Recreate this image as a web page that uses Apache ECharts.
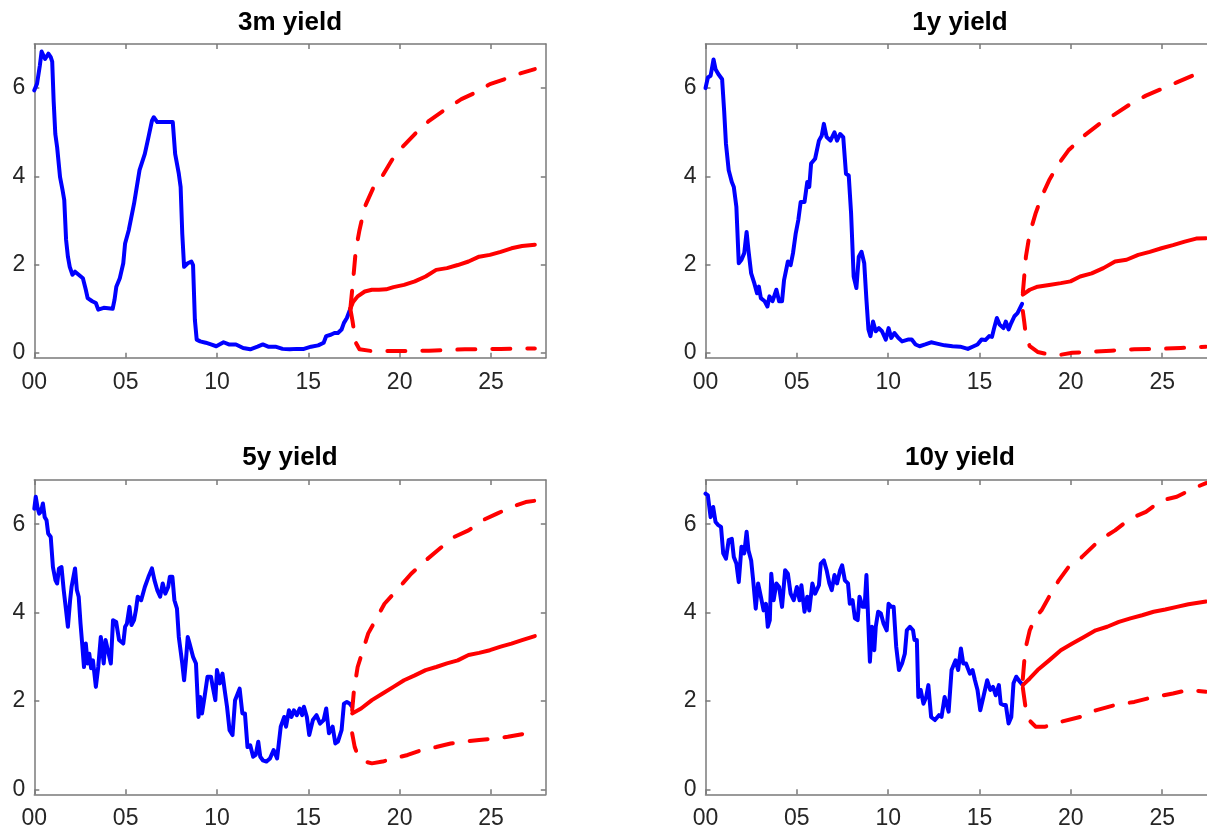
<!DOCTYPE html>
<html>
<head>
<meta charset="utf-8">
<script src="https://cdn.jsdelivr.net/npm/echarts@6/dist/echarts.min.js"></script>
<style>
html,body{margin:0;padding:0;background:#fff;overflow:hidden;width:1207px;height:832px;}
#chart{width:1222px;height:832px;}
</style>
</head>
<body>
<div id="chart"></div>
<script>
// ---------- data (x = years since 2000, y = yield in %) ----------
const panelTitles = ['3m yield', '1y yield', '5y yield', '10y yield'];
const xTickValues = [0, 5, 10, 15, 20, 25];
const xTickLabels = ['00', '05', '10', '15', '20', '25'];
const yTickValues = [0, 2, 4, 6];
const yTickLabels = ['0', '2', '4', '6'];

const hist3m = [[0,5.95],[0.15,6.1],[0.3,6.5],[0.4,6.83],[0.59,6.66],[0.77,6.78],[0.9,6.7],[0.98,6.6],[1.06,5.7],[1.15,4.96],[1.25,4.66],[1.41,3.98],[1.55,3.68],[1.64,3.46],[1.74,2.56],[1.84,2.18],[1.94,1.95],[2.09,1.77],[2.23,1.84],[2.43,1.77],[2.66,1.69],[2.82,1.43],[2.92,1.24],[3.17,1.17],[3.37,1.13],[3.5,0.98],[3.8,1.02],[4.29,1.0],[4.39,1.2],[4.49,1.5],[4.68,1.69],[4.87,2.03],[4.97,2.48],[5.17,2.78],[5.46,3.38],[5.76,4.14],[6.05,4.51],[6.25,4.89],[6.44,5.26],[6.54,5.34],[6.73,5.23],[7.13,5.23],[7.58,5.23],[7.71,4.51],[7.91,4.06],[8.01,3.76],[8.1,2.7],[8.2,1.95],[8.4,2.03],[8.6,2.07],[8.69,1.99],[8.79,0.75],[8.89,0.3],[9.08,0.26],[9.38,0.23],[9.67,0.19],[9.96,0.15],[10.36,0.24],[10.65,0.19],[11.04,0.19],[11.43,0.11],[11.82,0.08],[12.22,0.14],[12.51,0.19],[12.8,0.14],[13.2,0.14],[13.59,0.09],[13.98,0.08],[14.37,0.09],[14.76,0.09],[15.15,0.14],[15.54,0.17],[15.84,0.23],[15.98,0.38],[16.23,0.41],[16.43,0.45],[16.62,0.45],[16.82,0.53],[16.95,0.68],[17.11,0.79],[17.3,1.0]];
const fc3mMid = [[17.3,1.0],[17.45,1.15],[17.7,1.28],[18.09,1.39],[18.48,1.43],[18.87,1.43],[19.26,1.44],[19.66,1.49],[20.24,1.54],[20.83,1.62],[21.42,1.73],[22.0,1.88],[22.59,1.92],[23.18,1.99],[23.77,2.07],[24.35,2.18],[24.94,2.22],[25.53,2.29],[26.12,2.37],[26.7,2.42],[27.4,2.45]];
const fc3mHi = [[17.3,1.0],[17.42,1.5],[17.6,2.33],[17.8,2.78],[18.09,3.31],[18.58,3.76],[19.07,4.02],[19.56,4.36],[20.14,4.66],[20.83,4.96],[21.61,5.26],[22.4,5.49],[23.38,5.75],[24.16,5.9],[24.94,6.09],[25.72,6.2],[26.5,6.32],[27.4,6.43]];
const fc3mLo = [[17.3,1.0],[17.42,0.72],[17.6,0.23],[17.8,0.08],[18.48,0.04],[19.66,0.04],[21.61,0.05],[23.57,0.08],[25.53,0.09],[27.4,0.1]];

const hist1y = [[0,6.0],[0.13,6.24],[0.28,6.28],[0.44,6.65],[0.55,6.43],[0.7,6.32],[0.91,6.2],[1.02,5.49],[1.12,4.74],[1.27,4.14],[1.44,3.87],[1.55,3.76],[1.69,3.31],[1.82,2.03],[1.97,2.11],[2.12,2.26],[2.25,2.74],[2.35,2.33],[2.5,1.8],[2.67,1.58],[2.82,1.35],[2.92,1.5],[3.03,1.24],[3.24,1.17],[3.39,1.05],[3.5,1.28],[3.67,1.17],[3.88,1.43],[4.03,1.17],[4.19,1.17],[4.3,1.65],[4.51,2.07],[4.66,1.99],[4.79,2.26],[4.94,2.71],[5.08,3.01],[5.21,3.42],[5.42,3.42],[5.57,3.87],[5.68,3.76],[5.78,4.29],[6.0,4.4],[6.21,4.81],[6.36,4.92],[6.48,5.19],[6.63,4.89],[6.84,4.81],[7.06,5.0],[7.2,4.81],[7.37,4.96],[7.54,4.89],[7.69,4.06],[7.84,4.02],[7.97,3.16],[8.11,1.73],[8.26,1.47],[8.39,2.18],[8.54,2.29],[8.69,2.03],[8.81,1.2],[8.92,0.53],[9.03,0.38],[9.17,0.71],[9.32,0.49],[9.49,0.56],[9.66,0.49],[9.87,0.3],[10.02,0.56],[10.17,0.34],[10.34,0.45],[10.55,0.34],[10.76,0.26],[11.08,0.3],[11.29,0.3],[11.5,0.19],[11.72,0.15],[12.03,0.19],[12.35,0.24],[12.67,0.21],[13.09,0.17],[13.52,0.15],[13.94,0.14],[14.36,0.09],[14.68,0.15],[14.89,0.19],[15.11,0.3],[15.32,0.29],[15.53,0.38],[15.68,0.36],[15.8,0.56],[15.95,0.79],[16.1,0.64],[16.31,0.56],[16.44,0.71],[16.59,0.53],[16.74,0.68],[16.91,0.83],[17.08,0.9],[17.33,1.11]];
const fc1yMid = [[17.37,1.32],[17.75,1.43],[18.18,1.5],[18.81,1.54],[19.45,1.58],[19.98,1.62],[20.51,1.73],[21.14,1.8],[21.78,1.92],[22.42,2.07],[23.05,2.11],[23.69,2.22],[24.32,2.29],[24.96,2.37],[25.59,2.44],[26.23,2.52],[26.86,2.59],[27.4,2.6]];
const fc1yHi = [[17.37,1.35],[17.54,2.18],[17.75,2.71],[18.07,3.16],[18.39,3.53],[18.81,3.91],[19.34,4.29],[19.87,4.59],[20.72,4.92],[21.57,5.19],[22.42,5.41],[23.26,5.64],[24.11,5.83],[24.96,5.98],[25.8,6.13],[26.65,6.28],[27.4,6.34]];
const fc1yLo = [[17.37,0.95],[17.45,0.7],[17.54,0.38],[17.75,0.15],[18.18,0.02],[18.81,-0.04],[19.34,-0.05],[20.08,0.0],[20.93,0.02],[22.2,0.05],[23.47,0.08],[24.75,0.09],[26.02,0.11],[27.4,0.14]];

const hist5y = [[0,6.35],[0.08,6.62],[0.18,6.37],[0.27,6.24],[0.37,6.29],[0.47,6.47],[0.57,6.16],[0.67,6.09],[0.76,5.79],[0.9,5.71],[1.02,5.03],[1.16,4.73],[1.25,4.66],[1.35,5.0],[1.49,5.03],[1.61,4.51],[1.74,4.05],[1.84,3.68],[1.96,4.28],[2.04,4.58],[2.13,4.54],[2.23,5.0],[2.33,4.51],[2.43,4.36],[2.53,3.75],[2.62,3.3],[2.72,2.77],[2.82,3.3],[2.92,2.85],[3.01,3.07],[3.11,2.74],[3.21,2.92],[3.37,2.32],[3.5,2.77],[3.64,3.45],[3.8,2.85],[3.9,3.38],[3.99,3.34],[4.19,2.85],[4.31,3.83],[4.48,3.79],[4.64,3.38],[4.87,3.3],[4.97,3.68],[5.07,3.75],[5.21,4.13],[5.32,3.72],[5.46,3.83],[5.56,4.05],[5.66,4.36],[5.85,4.28],[6.05,4.58],[6.25,4.81],[6.44,5.0],[6.58,4.73],[6.73,4.51],[6.89,4.36],[7.03,4.66],[7.17,4.43],[7.33,4.58],[7.42,4.81],[7.56,4.81],[7.67,4.28],[7.81,4.09],[7.91,3.45],[8.01,3.41],[8.1,2.85],[8.2,2.47],[8.3,2.92],[8.4,3.45],[8.5,3.3],[8.69,3.0],[8.85,2.85],[8.99,1.64],[9.08,2.09],[9.18,1.72],[9.32,2.09],[9.48,2.55],[9.67,2.55],[9.77,2.32],[9.91,2.02],[10.0,2.7],[10.16,2.4],[10.3,2.62],[10.42,2.25],[10.55,1.87],[10.69,1.34],[10.85,1.23],[10.99,2.02],[11.08,2.02],[11.24,2.28],[11.39,1.72],[11.53,1.72],[11.67,0.96],[11.82,1.0],[11.98,0.74],[12.12,0.78],[12.26,1.08],[12.37,0.74],[12.51,0.66],[12.71,0.63],[12.9,0.7],[13.1,0.89],[13.29,0.7],[13.49,1.42],[13.68,1.64],[13.78,1.42],[13.94,1.79],[14.08,1.64],[14.21,1.79],[14.37,1.68],[14.53,1.83],[14.66,1.68],[14.76,1.87],[14.92,1.64],[15.05,1.23],[15.25,1.57],[15.45,1.68],[15.64,1.49],[15.84,1.57],[15.98,1.83],[16.13,1.27],[16.33,1.42],[16.48,1.04],[16.62,1.08],[16.82,1.34],[16.95,1.94],[17.11,1.98],[17.27,1.94],[17.4,1.87]];
const fc5yMid = [[17.4,1.72],[17.89,1.83],[18.48,2.02],[19.07,2.17],[19.66,2.32],[20.24,2.47],[20.83,2.58],[21.42,2.7],[22.0,2.77],[22.59,2.85],[23.18,2.92],[23.77,3.04],[24.35,3.09],[24.94,3.15],[25.53,3.23],[26.12,3.3],[26.7,3.38],[27.4,3.47]];
const fc5yHi = [[17.4,1.79],[17.5,2.25],[17.7,2.77],[17.99,3.15],[18.28,3.53],[18.68,3.83],[19.17,4.2],[19.85,4.51],[20.63,4.88],[21.42,5.18],[22.2,5.45],[22.98,5.71],[23.77,5.86],[24.55,6.09],[25.33,6.24],[26.12,6.39],[26.9,6.5],[27.4,6.53]];
const fc5yLo = [[17.4,1.27],[17.54,0.96],[17.7,0.78],[18.09,0.63],[18.48,0.59],[19.07,0.63],[19.66,0.7],[20.44,0.78],[21.22,0.89],[22.0,0.96],[22.79,1.04],[23.57,1.08],[24.35,1.12],[25.14,1.15],[25.92,1.19],[26.7,1.25],[27.4,1.3]];

const hist10y = [[0,6.69],[0.13,6.65],[0.28,6.16],[0.42,6.39],[0.55,6.05],[0.7,5.98],[0.85,5.94],[0.97,5.34],[1.12,5.22],[1.27,5.64],[1.44,5.67],[1.55,5.26],[1.69,5.11],[1.82,4.69],[1.97,5.49],[2.12,5.34],[2.25,5.83],[2.35,5.41],[2.5,5.18],[2.61,4.73],[2.75,4.09],[2.88,4.66],[3.03,4.36],[3.18,4.05],[3.31,4.2],[3.41,3.68],[3.52,3.83],[3.6,4.88],[3.73,4.28],[3.88,4.66],[4.03,4.58],[4.19,4.13],[4.36,4.96],[4.51,4.88],[4.66,4.43],[4.83,4.28],[5.0,4.58],[5.15,4.28],[5.25,4.62],[5.42,4.02],[5.57,4.36],[5.68,4.05],[5.85,4.66],[6.0,4.43],[6.21,4.62],[6.31,5.11],[6.48,5.18],[6.63,4.96],[6.78,4.66],[6.91,4.51],[7.06,4.85],[7.2,4.66],[7.37,4.96],[7.48,5.07],[7.63,4.73],[7.8,4.66],[7.9,4.2],[8.05,4.28],[8.18,3.87],[8.33,3.83],[8.43,4.36],[8.6,4.13],[8.71,4.13],[8.81,4.85],[8.9,3.9],[9.0,2.89],[9.11,3.68],[9.24,3.15],[9.32,3.68],[9.45,4.02],[9.6,3.98],[9.75,3.75],[9.92,3.6],[10.02,4.2],[10.17,4.13],[10.3,4.13],[10.44,3.23],[10.59,2.7],[10.76,2.85],[10.91,3.07],[11.02,3.6],[11.19,3.68],[11.36,3.6],[11.44,3.38],[11.57,3.38],[11.65,2.09],[11.78,2.25],[11.93,1.94],[12.08,2.09],[12.2,2.36],[12.35,1.64],[12.56,1.57],[12.78,1.68],[12.92,1.64],[13.09,2.09],[13.31,1.76],[13.47,2.7],[13.69,2.92],[13.83,2.7],[13.98,3.19],[14.11,2.85],[14.26,2.85],[14.47,2.62],[14.62,2.7],[14.75,2.47],[14.89,2.25],[15.04,1.79],[15.21,2.09],[15.42,2.47],[15.59,2.25],[15.74,2.32],[15.89,2.13],[16.06,2.36],[16.16,1.94],[16.31,1.91],[16.44,1.91],[16.59,1.49],[16.74,1.64],[16.86,2.4],[17.01,2.55],[17.22,2.43],[17.37,2.36]];
const fc10yMid = [[17.37,2.36],[17.75,2.51],[18.18,2.7],[18.81,2.92],[19.45,3.15],[20.08,3.3],[20.72,3.45],[21.36,3.6],[21.99,3.68],[22.63,3.79],[23.26,3.87],[23.9,3.94],[24.53,4.02],[25.17,4.07],[25.8,4.13],[26.44,4.19],[27.4,4.25]];
const fc10yHi = [[17.37,2.5],[17.45,2.9],[17.54,3.23],[17.75,3.6],[18.07,3.9],[18.39,4.05],[18.81,4.36],[19.34,4.73],[19.87,5.03],[20.61,5.26],[21.57,5.64],[22.42,5.86],[23.26,6.13],[24.11,6.28],[24.96,6.54],[25.8,6.62],[26.65,6.8],[27.4,6.93]];
const fc10yLo = [[17.37,2.3],[17.54,1.79],[17.71,1.57],[18.07,1.42],[18.6,1.42],[19.45,1.53],[20.51,1.64],[21.36,1.79],[22.42,1.91],[23.47,1.98],[24.53,2.09],[25.59,2.17],[26.44,2.25],[27.4,2.21]];

// ---------- chart ----------
const panels = [
  {hist: hist3m,  mid: fc3mMid,  hi: fc3mHi,  lo: fc3mLo},
  {hist: hist1y,  mid: fc1yMid,  hi: fc1yHi,  lo: fc1yLo},
  {hist: hist5y,  mid: fc5yMid,  hi: fc5yHi,  lo: fc5yLo},
  {hist: hist10y, mid: fc10yMid, hi: fc10yHi, lo: fc10yLo}
];
const gridBoxes = [
  {left: 34.3,  top: 44,  width: 511.5, height: 313.7},
  {left: 705.5, top: 44,  width: 511.5, height: 313.7},
  {left: 34.3,  top: 480, width: 511.5, height: 314.3},
  {left: 705.5, top: 480, width: 511.5, height: 314.3}
];
const titlePos = [[290, 23], [960, 23], [290, 458], [960, 458]];

const FONT = '"Liberation Sans", Arial, Helvetica, sans-serif';
const AXIS = '#7a7a7a';
const LABEL = '#262626';

const grids = gridBoxes.map(g => Object.assign({containLabel: false, show: false}, g));
const xAxes = [], yAxes = [], series = [];
panels.forEach((p, i) => {
  ['bottom', 'top'].forEach(pos => {
    xAxes.push({
      type: 'value', gridIndex: i, position: pos, min: 0, max: 28,
      axisLine: {show: true, onZero: false, lineStyle: {color: AXIS, width: 1.5}},
      axisTick: {show: true, inside: true, length: 5, customValues: xTickValues, lineStyle: {color: AXIS, width: 1.5}},
      axisLabel: {show: pos === 'bottom', customValues: xTickValues, margin: 13,
        formatter: v => xTickLabels[xTickValues.indexOf(v)],
        color: LABEL, fontSize: 23, fontFamily: FONT},
      splitLine: {show: false}
    });
  });
  ['left', 'right'].forEach(pos => {
    yAxes.push({
      type: 'value', gridIndex: i, position: pos, min: -0.11, max: 7,
      axisLine: {show: true, onZero: false, lineStyle: {color: AXIS, width: 1.5}},
      axisTick: {show: true, inside: true, length: 5, customValues: yTickValues, lineStyle: {color: AXIS, width: 1.5}},
      axisLabel: {show: pos === 'left', customValues: yTickValues, margin: 9,
        formatter: v => yTickLabels[yTickValues.indexOf(v)],
        color: LABEL, fontSize: 23, fontFamily: FONT},
      splitLine: {show: false}
    });
  });
  const base = {type: 'line', xAxisIndex: 2 * i, yAxisIndex: 2 * i, showSymbol: false, symbol: 'none',
    silent: true, animation: false, clip: true};
  series.push(Object.assign({}, base, {data: p.hist,
    lineStyle: {color: '#0000ff', width: 4, cap: 'round', join: 'round'}}));
  series.push(Object.assign({}, base, {data: p.mid,
    lineStyle: {color: '#ff0000', width: 4, cap: 'round', join: 'round'}}));
  series.push(Object.assign({}, base, {data: p.hi,
    lineStyle: {color: '#ff0000', width: 4, type: [18, 17], cap: 'round', join: 'round'}}));
  series.push(Object.assign({}, base, {data: p.lo,
    lineStyle: {color: '#ff0000', width: 4, type: [18, 17], cap: 'round', join: 'round'}}));
});

const graphics = panelTitles.map((t, i) => ({
  type: 'text', x: titlePos[i][0], y: titlePos[i][1], silent: true,
  style: {text: t, align: 'center', verticalAlign: 'middle', fontSize: 26, fontWeight: 'bold',
    fontFamily: FONT, fill: '#000'}
}));

const chart = echarts.init(document.getElementById('chart'), null, {renderer: 'canvas', width: 1222, height: 832});
chart.setOption({
  animation: false,
  backgroundColor: '#ffffff',
  grid: grids,
  xAxis: xAxes,
  yAxis: yAxes,
  series: series,
  graphic: graphics
});
</script>
</body>
</html>
